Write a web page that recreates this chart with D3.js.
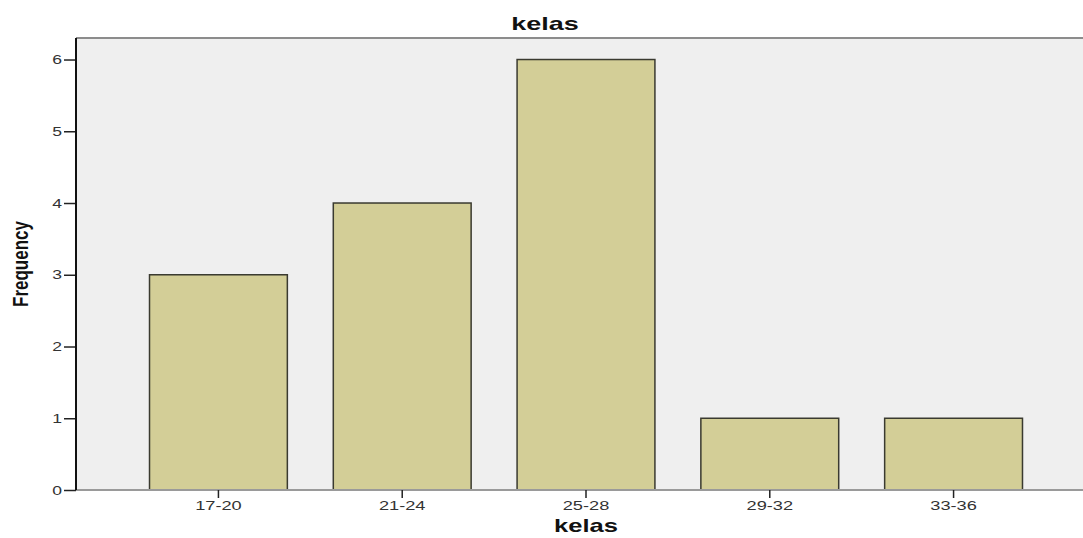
<!DOCTYPE html>
<html>
<head>
  <meta charset="utf-8">
  <title>kelas</title>
  <style>
    body {
      margin: 0;
      background: #ffffff;
      font-family: "Liberation Sans", Arial, sans-serif;
    }
  </style>
  <script src="https://d3js.org/d3.v7.min.js"></script>
</head>
<body>
  <div id="chart"></div>
  <script>
    // class intervals and their counts
    const categories = ["17-20", "21-24", "25-28", "29-32", "33-36"];
    const frequencies = [3, 4, 6, 1, 1];
    const yTicks = [0, 1, 2, 3, 4, 5, 6];

    const svg = d3.select("#chart").append("svg")
      .attr("width", 1083)
      .attr("height", 538);

    // plot area runs past the right edge, like the cropped original
    const margin = { top: 38, left: 76, bottom: 48 },
          plotRight = 1096,
          plotBottom = +svg.attr("height") - margin.bottom;

    const x = d3.scaleBand()
      .domain(categories)
      .range([margin.left, plotRight])
      .paddingInner(0.25)
      .paddingOuter(0.4);

    const y = d3.scaleLinear()
      .domain([0, 6.3])
      .range([plotBottom, margin.top]);

    // background
    svg.append("rect")
      .attr("x", margin.left)
      .attr("y", margin.top)
      .attr("width", plotRight - margin.left)
      .attr("height", plotBottom - margin.top)
      .style("fill", "#efefef");

    // top border
    svg.append("line")
      .attr("x1", margin.left).attr("x2", plotRight)
      .attr("y1", margin.top).attr("y2", margin.top)
      .style("stroke", "#8c8c8c")
      .style("stroke-width", 2);

    // bars
    svg.selectAll(".bar")
      .data(frequencies)
      .enter()
      .append("rect")
      .attr("class", "bar")
      .attr("x", (d, i) => x(categories[i]))
      .attr("y", d => y(d))
      .attr("width", x.bandwidth())
      .attr("height", d => y(0) - y(d))
      .style("fill", "#d3ce97")
      .style("stroke", "#3a3a30")
      .style("stroke-width", 1.5);

    // bottom axis line (grey)
    svg.append("line")
      .attr("x1", margin.left).attr("x2", plotRight)
      .attr("y1", y(0)).attr("y2", y(0))
      .style("stroke", "#9a9a9a")
      .style("stroke-width", 2);

    // y axis
    const yAxis = svg.append("g")
      .attr("transform", `translate(${margin.left},0)`)
      .call(d3.axisLeft(y).tickValues(yTicks).tickSize(12).tickFormat(d3.format("d")));
    yAxis.select(".domain").remove();
    yAxis.selectAll("line").style("stroke", "#222").style("stroke-width", 1.5);
    yAxis.selectAll("text")
      .attr("x", -10.4)
      .attr("transform", "scale(1.35,1)")
      .style("font-size", "13px")
      .style("fill", "#333");

    svg.append("line")
      .attr("x1", margin.left).attr("x2", margin.left)
      .attr("y1", margin.top).attr("y2", y(0))
      .style("stroke", "#111")
      .style("stroke-width", 2);

    // x axis
    const xAxis = svg.append("g")
      .attr("transform", `translate(0,${y(0)})`)
      .call(d3.axisBottom(x).tickSize(8).tickPadding(2));
    xAxis.select(".domain").remove();
    xAxis.selectAll("line").style("stroke", "#222").style("stroke-width", 1.5);
    xAxis.selectAll("text")
      .attr("transform", "scale(1.35,1)")
      .style("font-size", "13.5px")
      .style("fill", "#333");

    // title
    svg.append("text")
      .attr("text-anchor", "middle")
      .attr("transform", "translate(545,30) scale(1.42,1)")
      .style("font-size", "19px")
      .style("font-weight", "bold")
      .style("fill", "#111")
      .text("kelas");

    // x label
    svg.append("text")
      .attr("text-anchor", "middle")
      .attr("transform", `translate(${(x(categories[0]) + x(categories[4]) + x.bandwidth()) / 2},532) scale(1.42,1)`)
      .style("font-size", "18px")
      .style("font-weight", "bold")
      .style("fill", "#111")
      .text("kelas");

    // y label
    svg.append("text")
      .attr("text-anchor", "middle")
      .attr("transform", `translate(28,${(margin.top + plotBottom) / 2}) rotate(-90) scale(1,1.35)`)
      .style("font-size", "17px")
      .style("font-weight", "bold")
      .style("fill", "#111")
      .text("Frequency");
  </script>
</body>
</html>
